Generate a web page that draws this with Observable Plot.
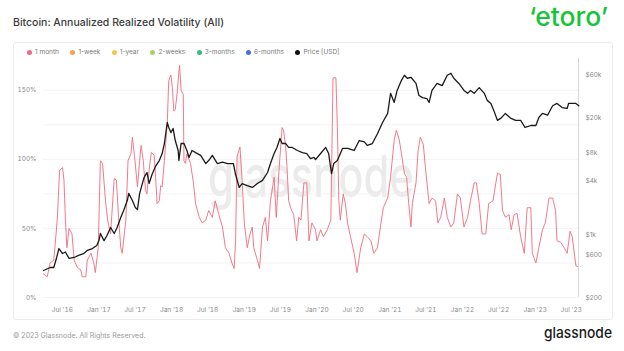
<!DOCTYPE html>
<html><head><meta charset="utf-8">
<script src="https://cdn.jsdelivr.net/npm/d3@7"></script>
<script src="https://cdn.jsdelivr.net/npm/@observablehq/plot@0.6"></script>
<style>
body{margin:0;background:#fff;font-family:Inter,"Noto Sans",sans-serif;}
#page{position:relative;width:624px;height:351px;overflow:hidden;background:#fff;}
#title{position:absolute;left:13px;top:16px;font-size:10.5px;font-weight:500;color:#3a3a3a;white-space:nowrap;}
#frame{position:absolute;left:13px;top:42px;width:598px;height:276px;border:1px solid #ececec;border-radius:3px;}
#legend{position:absolute;left:27px;top:48px;display:flex;gap:11.5px;font-size:6.5px;color:#7a7a7a;white-space:nowrap;}
#legend .it{display:flex;align-items:center;}
#legend .dot{width:5px;height:5px;border-radius:50%;margin-right:3px;}
.layer{position:absolute;left:0;top:0;}
#footer{position:absolute;left:13px;top:331px;font-size:7px;color:#9a9a9a;white-space:nowrap;}
</style></head><body>
<div id="page">
  <div id="title">Bitcoin: Annualized Realized Volatility (All)</div>
  <svg class="layer" width="624" height="40" style="left:0;top:0">
    <text x="529" y="26" textLength="79" lengthAdjust="spacingAndGlyphs" font-family="Inter, sans-serif" font-size="26" font-weight="500" fill="#16c43a">‘etoro’</text>
  </svg>
  <div id="frame"></div>
  <div id="legend"></div>
  <svg class="layer" width="624" height="351">
    <text x="208" y="197" textLength="206" lengthAdjust="spacingAndGlyphs" font-family="Inter, sans-serif" font-size="58" font-weight="500" fill="#ebebeb">glassnode</text>
  </svg>
  <div id="vol" class="layer"></div>
  <div id="price" class="layer"></div>
  <div id="footer">© 2023 Glassnode. All Rights Reserved.</div>
  <svg class="layer" width="624" height="351">
    <text x="544" y="338" textLength="68" lengthAdjust="spacingAndGlyphs" font-family="Inter, sans-serif" font-size="15" font-weight="500" fill="#1a1a1a">glassnode</text>
  </svg>
</div>
<script>
// ---- data (decimal years) ----
const volYears = [2016.24,2016.29,2016.33,2016.38,2016.40,2016.43,2016.46,2016.50,2016.52,2016.54,2016.56,2016.59,2016.63,2016.66,2016.70,2016.75,2016.77,2016.82,2016.84,2016.89,2016.93,2016.95,2016.99,
2017.02,2017.05,2017.09,2017.12,2017.16,2017.21,2017.24,2017.27,2017.30,2017.32,2017.37,2017.40,2017.44,2017.46,2017.49,2017.53,2017.56,2017.58,2017.61,2017.64,2017.66,2017.69,2017.72,2017.76,2017.78,2017.80,2017.83,2017.85,2017.87,2017.90,2017.94,2017.96,2017.99,
2018.01,2018.03,2018.05,2018.08,2018.10,2018.11,2018.13,2018.16,2018.17,2018.19,2018.21,2018.26,2018.30,2018.33,2018.38,2018.42,2018.47,2018.51,2018.56,2018.60,2018.65,2018.70,2018.74,2018.79,2018.83,2018.86,2018.88,2018.90,2018.94,2018.97,
2019.00,2019.04,2019.08,2019.11,2019.13,2019.18,2019.21,2019.25,2019.29,2019.32,2019.36,2019.41,2019.44,2019.48,2019.52,2019.54,2019.57,2019.59,2019.61,2019.65,2019.68,2019.72,2019.75,2019.78,2019.82,2019.86,2019.89,2019.93,2019.98,
2020.00,2020.05,2020.09,2020.14,2020.19,2020.21,2020.22,2020.26,2020.28,2020.30,2020.32,2020.36,2020.39,2020.42,2020.46,2020.51,2020.55,2020.60,2020.65,2020.69,2020.74,2020.78,2020.83,2020.87,2020.91,2020.97,
2021.01,2021.06,2021.09,2021.13,2021.16,2021.20,2021.23,2021.26,2021.29,2021.31,2021.36,2021.39,2021.42,2021.46,2021.49,2021.54,2021.58,2021.63,2021.66,2021.70,2021.75,2021.79,2021.84,2021.88,2021.93,2021.97,
2022.02,2022.07,2022.11,2022.16,2022.19,2022.23,2022.27,2022.32,2022.36,2022.42,2022.48,2022.52,2022.55,2022.59,2022.64,2022.67,2022.71,2022.75,2022.80,2022.85,2022.89,2022.94,2022.96,
2023.01,2023.05,2023.10,2023.14,2023.19,2023.24,2023.28,2023.30,2023.35,2023.40,2023.44,2023.48,2023.51,2023.56,2023.60];
const volValues = [17,15,25,27,39,58,92,94,85,56,36,50,46,27,22,20,15,15,27,32,25,18,36,
99,97,70,56,46,86,85,58,36,32,56,99,104,116,102,80,99,110,99,78,75,92,105,103,87,68,70,81,80,99,126,157,161,
152,135,136,150,164,168,150,147,99,97,104,97,83,68,58,54,56,63,58,70,60,51,36,32,25,21,41,102,109,85,
54,36,46,51,36,27,21,51,58,41,70,87,58,94,123,121,109,92,70,63,60,41,58,56,83,83,41,54,49,
41,49,44,49,56,123,159,159,123,70,56,75,68,54,44,32,18,36,46,44,41,32,36,51,65,72,
87,114,121,114,104,90,87,68,51,68,83,107,116,111,94,68,72,70,54,58,72,58,51,54,75,72,
51,58,70,83,83,68,46,46,68,70,90,89,63,58,60,49,60,61,44,32,65,65,32,
25,36,49,54,72,72,63,41,40,36,32,48,44,23,22];

const priceYears = [2016.24,2016.33,2016.38,2016.42,2016.45,2016.50,2016.54,2016.59,2016.66,2016.72,2016.79,2016.84,2016.91,2016.97,
2017.00,2017.02,2017.07,2017.11,2017.16,2017.21,2017.25,2017.30,2017.34,2017.39,2017.41,2017.46,2017.50,2017.53,2017.56,2017.62,2017.66,2017.69,2017.73,2017.78,2017.83,2017.87,2017.90,2017.94,2017.96,2017.99,
2018.02,2018.05,2018.09,2018.10,2018.13,2018.17,2018.21,2018.24,2018.28,2018.33,2018.40,2018.47,2018.51,2018.56,2018.63,2018.70,2018.77,2018.85,2018.88,2018.93,2018.97,
2019.04,2019.11,2019.18,2019.25,2019.32,2019.36,2019.41,2019.45,2019.49,2019.52,2019.57,2019.61,2019.66,2019.73,2019.80,2019.86,2019.91,2019.96,2019.98,
2020.05,2020.12,2020.16,2020.20,2020.23,2020.28,2020.35,2020.42,2020.51,2020.58,2020.65,2020.69,2020.76,2020.83,2020.90,2020.97,
2021.01,2021.06,2021.10,2021.16,2021.20,2021.24,2021.29,2021.36,2021.40,2021.45,2021.51,2021.54,2021.58,2021.65,2021.72,2021.79,2021.84,2021.88,2021.95,
2022.02,2022.07,2022.11,2022.16,2022.23,2022.30,2022.34,2022.39,2022.43,2022.48,2022.53,2022.59,2022.66,2022.73,2022.80,2022.86,2022.94,
2023.01,2023.05,2023.10,2023.17,2023.24,2023.30,2023.37,2023.44,2023.46,2023.56,2023.60];
const priceValues = [399,431,431,557,700,616,640,543,557,587,616,666,700,758,
858,1029,858,977,1198,1029,1198,1549,1851,2390,2873,2390,2000,1900,2873,4300,4900,3700,4650,5780,6650,7960,10280,17600,15500,13600,
15100,11100,8600,6650,10280,10280,8600,7190,8600,8150,7600,6160,6650,7600,6160,6400,6160,6160,4650,3340,3690,
3500,3340,3690,4000,4900,6160,7960,9300,11700,10280,10280,9300,9300,8600,8150,7960,7000,7190,6800,
7960,9300,7960,4760,6160,6650,9070,9070,8600,11100,10700,9800,10280,13200,17600,22200,
37100,29400,40000,51800,58900,54600,56000,47800,35100,33300,32500,29400,40000,47800,45200,58900,62000,54600,47800,
40000,37100,40000,37100,43000,37100,31000,28700,24000,18600,19700,22200,19700,18600,18600,15500,16300,
16300,20000,22200,21200,27000,28700,25800,25200,28700,28700,27000];

const legendLabels = ["1 month","1-week","1-year","2-weeks","3-months","6-months","Price [USD]"];
const legendColors = ["#ef6b7e","#f4a04c","#f2c84b","#a3d46a","#2fbf7e","#4a6fd6","#111111"];

const xTickDates = ["2016-07-01","2017-01-01","2017-07-01","2018-01-01","2018-07-01","2019-01-01","2019-07-01","2020-01-01","2020-07-01","2021-01-01","2021-07-01","2022-01-01","2022-07-01","2023-01-01","2023-07-01"];
const xTickLabels = ["Jul '16","Jan '17","Jul '17","Jan '18","Jul '18","Jan '19","Jul '19","Jan '20","Jul '20","Jan '21","Jul '21","Jan '22","Jul '22","Jan '23","Jul '23"];
const volTicks = [0,50,100,150];
const volTickLabels = ["0%","50%","100%","150%"];
const volGrid = [0,25,50,75,100,125,150];
const priceTicks = [200,600,1000,4000,8000,20000,60000];
const priceTickLabels = ["$200","$600","$1k","$4k","$8k","$20k","$60k"];

// ---- helpers ----
function yearToDate(y){const yr=Math.floor(y);const a=Date.UTC(yr,0,1),b=Date.UTC(yr+1,0,1);return new Date(a+(y-yr)*(b-a));}
const volData = volYears.map((t,i)=>({date:yearToDate(t),v:volValues[i]}));
const priceData = priceYears.map((t,i)=>({date:yearToDate(t),p:priceValues[i]}));
const xTicks = xTickDates.map(s=>new Date(s+"T00:00:00Z"));
const xLab = new Map(xTicks.map((d,i)=>[+d,xTickLabels[i]]));
const vLab = new Map(volTicks.map((d,i)=>[d,volTickLabels[i]]));
const priceTickData = priceTicks.map((v,i)=>({v,label:priceTickLabels[i]}));
const xDomain = [yearToDate(2016.239),yearToDate(2023.596)];

const common = {width:624,height:320,marginLeft:43,marginRight:46,marginTop:58,marginBottom:23,
  style:{background:"transparent",fontFamily:"Inter, sans-serif",fontSize:"6.5px",color:"#8a8a8a",overflow:"visible"}};

// legend
const lg = document.getElementById("legend");
legendLabels.forEach((l,i)=>{
  const it=document.createElement("div");it.className="it";
  const d=document.createElement("span");d.className="dot";d.style.background=legendColors[i];
  const t=document.createElement("span");t.textContent=l;
  it.appendChild(d);it.appendChild(t);lg.appendChild(it);
});

const volPlot = Plot.plot({...common,
  x:{type:"utc",domain:xDomain,ticks:xTicks,tickFormat:d=>xLab.get(+d),tickSize:0,tickPadding:10,label:null},
  y:{domain:[0,173],ticks:volTicks,tickFormat:d=>vLab.get(d),tickSize:0,tickPadding:7,label:null},
  marks:[
    Plot.ruleY(volGrid,{stroke:"#f0f0f0",strokeWidth:0.8}),
    Plot.line(volData,{x:"date",y:"v",stroke:legendColors[0],strokeWidth:1,strokeOpacity:0.9})
  ]});
document.getElementById("vol").appendChild(volPlot);

const pricePlot = Plot.plot({...common,
  x:{type:"utc",domain:xDomain,axis:null},
  y:{type:"log",domain:[200,90500],axis:null},
  marks:[
    Plot.ruleX([xDomain[1]],{stroke:"#d8d8d8",strokeWidth:1}),
    Plot.text(priceTickData,{x:()=>xDomain[1],y:"v",text:"label",textAnchor:"start",dx:7,fill:"#8a8a8a"}),
    Plot.line(priceData,{x:"date",y:"p",stroke:"#1a1a1a",strokeWidth:1.3})
  ]});
document.getElementById("price").appendChild(pricePlot);
</script>
</body></html>
